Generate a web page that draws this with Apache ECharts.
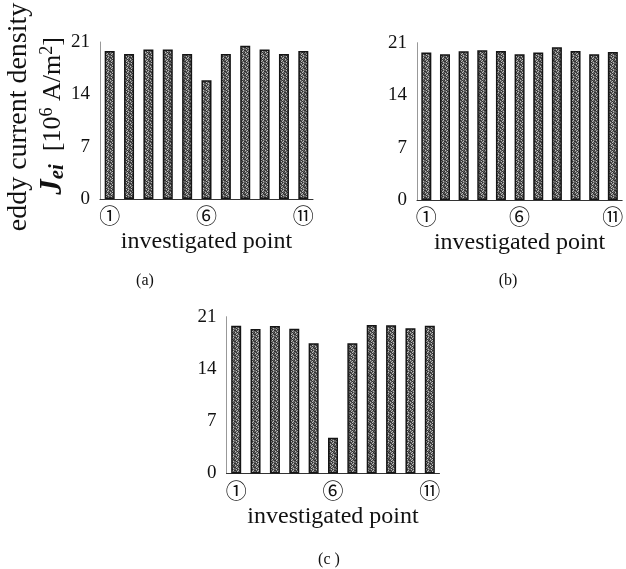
<!DOCTYPE html>
<html><head><meta charset="utf-8">
<script src="https://cdn.jsdelivr.net/npm/echarts@6/dist/echarts.min.js"></script>
<style>html,body{margin:0;padding:0;background:#fff}#c{width:626px;height:569px}</style>
</head><body><div id="c"></div>
<script>
// ---- data ----
const categories = ['1','2','3','4','5','6','7','8','9','10','11'];
const circledLabels = {0:'①', 5:'⑥', 10:'⑪'};
const yTicks = [0, 7, 14, 21];
const valuesA = [19.8, 19.4, 20.0, 20.0, 19.4, 15.9, 19.4, 20.5, 20.0, 19.4, 19.8];
const valuesB = [19.7, 19.45, 19.85, 20.0, 19.9, 19.45, 19.7, 20.4, 19.9, 19.45, 19.75];
const valuesC = [19.8, 19.35, 19.75, 19.4, 17.45, 4.8, 17.45, 19.9, 19.85, 19.45, 19.8];
const xName = 'investigated point';
const yName1 = 'eddy current density';
const captions = ['(a)', '(b)', '(c )'];

// ---- texture for bars (fixed pattern) ----
const pat = document.createElement('canvas');
pat.width = 5; pat.height = 7;
const pc = pat.getContext('2d');
const map = ['MLDMM','DMMLD','MDLMM','LMDMD','MMLDM','DLMMD','MDMLM'];
const cols = {L:'#bcbcbc', M:'#626262', D:'#2e2e2e'};
for (let r = 0; r < map.length; r++) for (let k = 0; k < 5; k++) { pc.fillStyle = cols[map[r][k]]; pc.fillRect(k, r, 1, 1); }

const serif = 'Liberation Serif';
const grids = [
  {left: 100, top: 42, width: 213, height: 157},
  {left: 417, top: 42.7, width: 213, height: 157.3},
  {left: 226.5, top: 316.7, width: 213, height: 156.8}
];
const datasets = [valuesA, valuesB, valuesC];

const chart = echarts.init(document.getElementById('c'), null, {renderer: 'canvas'});
const option = {
  animation: false,
  grid: grids,
  xAxis: grids.map((g, i) => ({
    type: 'category', gridIndex: i, data: categories,
    axisLine: {show: true, lineStyle: {color: '#333', width: 1}},
    axisTick: {show: false},
    axisLabel: {interval: 0, margin: 6, fontFamily: 'Noto Sans CJK JP', fontSize: 21, color: '#111',
      formatter: (v, idx) => circledLabels[idx] || ''},
    name: xName, nameLocation: 'middle', nameGap: 31,
    nameTextStyle: {fontFamily: serif, fontSize: 24, color: '#111'}
  })),
  yAxis: grids.map((g, i) => ({
    type: 'value', gridIndex: i, min: 0, max: 21, interval: 7,
    axisLine: {show: true, lineStyle: {color: '#999', width: 1}},
    axisTick: {show: false}, splitLine: {show: false},
    axisLabel: {margin: 10, fontFamily: serif, fontSize: 19, color: '#111',
      formatter: v => yTicks.includes(v) ? String(v) : ''}
  })),
  series: datasets.map((d, i) => ({
    type: 'bar', xAxisIndex: i, yAxisIndex: i, data: d, barWidth: 10,
    itemStyle: {color: {image: pat, repeat: 'repeat'}, borderColor: '#151515', borderWidth: 1.5}
  })),
  graphic: [
    {type: 'text', x: 19, y: 117, rotation: Math.PI / 2,
      style: {text: yName1, fontFamily: serif, fontSize: 28, fill: '#111', align: 'center', verticalAlign: 'middle'}},
    {type: 'text', x: 53, y: 116, rotation: Math.PI / 2,
      style: {text: '{j|J}{sub|ei}{n|  [10}{sup|6}{n| A/m}{sup|2}{n|]}', align: 'center', verticalAlign: 'middle', fill: '#111',
        rich: {
          j: {fontFamily: serif, fontSize: 31, fontStyle: 'italic', fontWeight: 'bold', fill: '#111', lineHeight: 30},
          sub: {fontFamily: serif, fontSize: 21, fontStyle: 'italic', fontWeight: 'bold', fill: '#111', verticalAlign: 'bottom', lineHeight: 17},
          n: {fontFamily: serif, fontSize: 26, fill: '#111', lineHeight: 30},
          sup: {fontFamily: serif, fontSize: 18, fill: '#111', verticalAlign: 'top', lineHeight: 15}
        }}},
    {type: 'text', x: 145, y: 281, style: {text: captions[0], fontFamily: serif, fontSize: 16, fill: '#111', align: 'center', verticalAlign: 'middle'}},
    {type: 'text', x: 508, y: 281, style: {text: captions[1], fontFamily: serif, fontSize: 16, fill: '#111', align: 'center', verticalAlign: 'middle'}},
    {type: 'text', x: 329, y: 560, style: {text: captions[2], fontFamily: serif, fontSize: 16, fill: '#111', align: 'center', verticalAlign: 'middle'}}
  ]
};
chart.setOption(option);
</script></body></html>
